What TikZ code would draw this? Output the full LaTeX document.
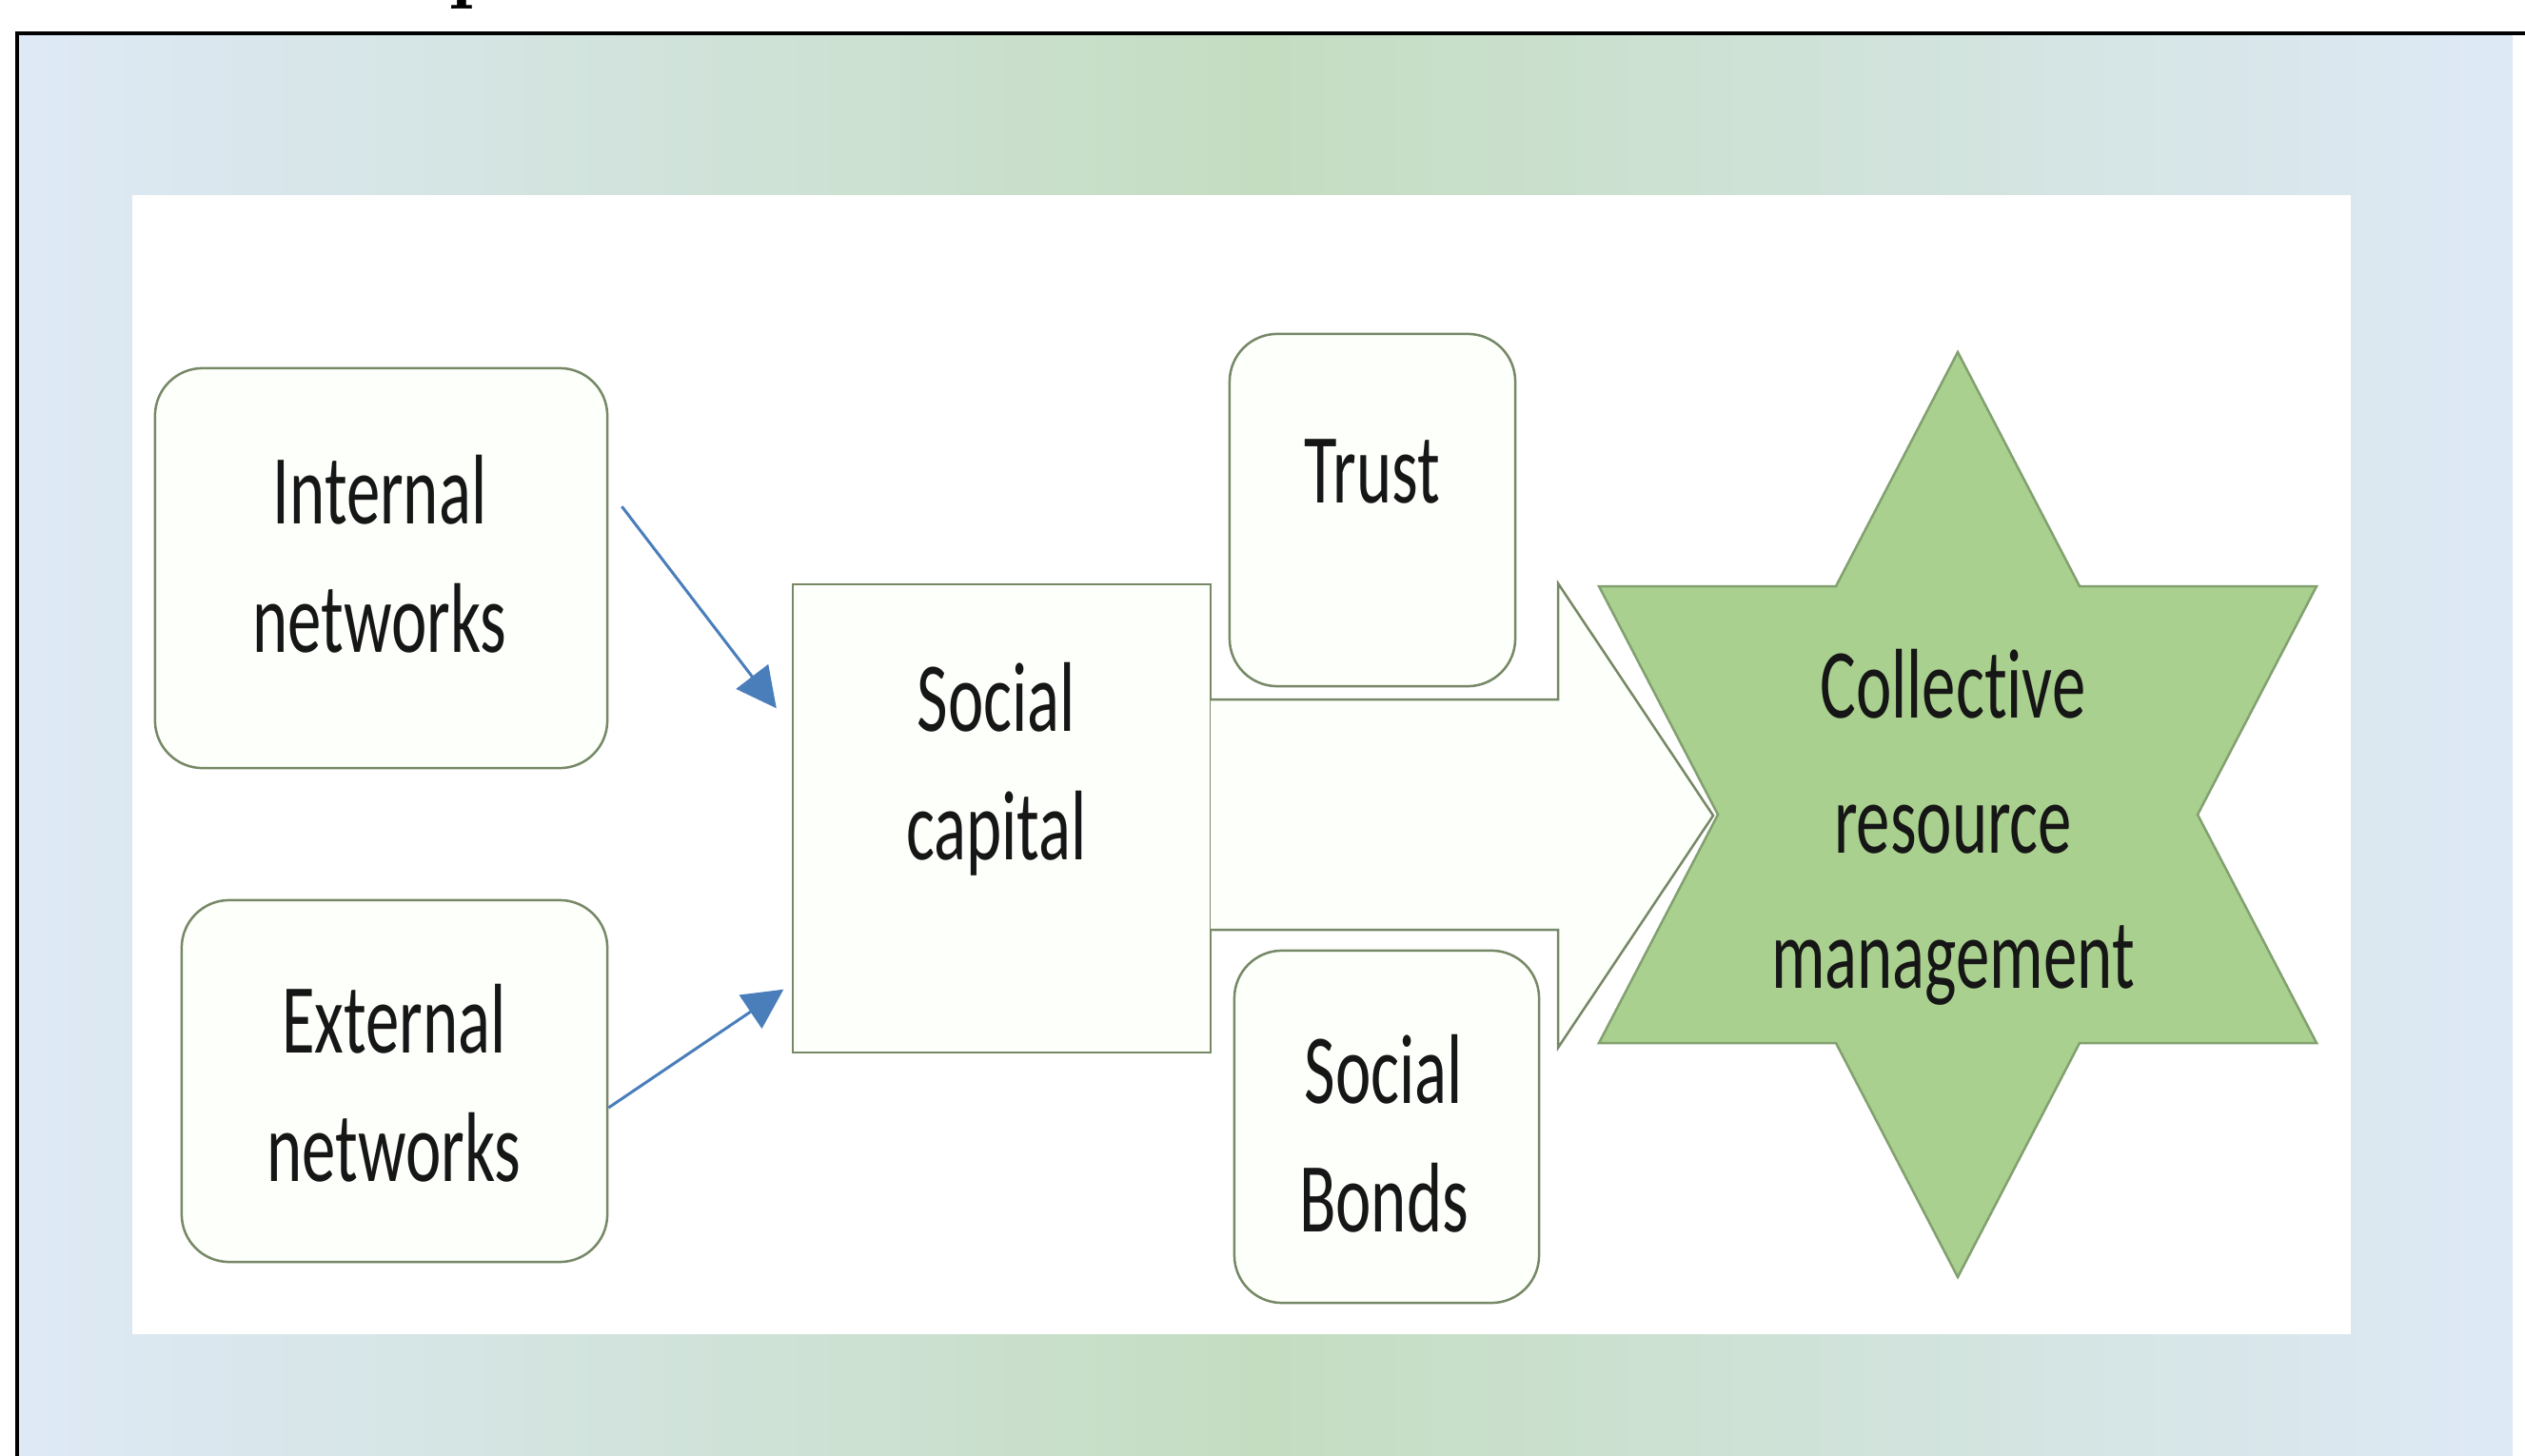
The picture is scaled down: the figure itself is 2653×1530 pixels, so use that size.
\documentclass[tikz,border=0pt]{standalone}
\usepackage{fontspec}
\newfontfamily\cf[FakeStretch=0.68,Ligatures=NoCommon]{Carlito}
\usetikzlibrary{arrows.meta,calc}
\definecolor{bgblue}{RGB}{222,233,246}
\definecolor{bggreen}{RGB}{196,221,193}
\definecolor{boxline}{RGB}{118,136,102}
\definecolor{boxfill}{RGB}{253,255,250}
\definecolor{starfill}{RGB}{169,208,142}
\definecolor{starline}{RGB}{130,160,112}
\definecolor{arrowblue}{RGB}{74,126,187}
\definecolor{txt}{RGB}{22,22,22}
\begin{document}
\begin{tikzpicture}[x=0.01cm,y=-0.01cm,
  rbox/.style={draw=boxline,fill=boxfill,line width=0.025cm,rounded corners=0.5cm,inner sep=0pt},
  sbox/.style={draw=boxline,fill=boxfill,line width=0.025cm,inner sep=0pt},
  lbl/.style={font=\cf\fontsize{29.6pt}{38.4pt}\selectfont,text=txt,align=center,inner sep=0pt},
  biglbl/.style={font=\cf\fontsize{29.6pt}{40.4pt}\selectfont,text=txt,align=center,inner sep=0pt},
  conn/.style={draw=arrowblue,line width=0.03cm,-{Triangle[length=0.42cm,width=0.42cm]}},
  starshape/.style={draw=starline,fill=starfill,line width=0.025cm,line join=miter},
]
\useasboundingbox (0,0) rectangle (2653,1530);
\fill[white] (0,0) rectangle (2653,1530);
% cut-off title fragment
\begin{scope}
\clip (0,0) rectangle (2653,12);
\node[anchor=base west,inner sep=0pt,font=\fontsize{25pt}{30pt}\selectfont\bfseries] (ttl) at (471,-8) {p};
\end{scope}
% slide background and frame
\shade[left color=bgblue,right color=bgblue,middle color=bggreen] (18,35) rectangle (2640,1600);
\draw[black,line width=0.035cm] (18,35) rectangle (2720,1620);
\fill[white] (139,205) rectangle (2470,1402);
% boxes
\node[rbox,minimum width=4.75cm,minimum height=4.2cm] (int) at (400.5,597) {};
\node[rbox,minimum width=4.47cm,minimum height=3.8cm] (ext) at (414.5,1136) {};
\node[rbox,minimum width=3.0cm,minimum height=3.7cm] (trust) at (1442,536) {};
\node[rbox,minimum width=3.2cm,minimum height=3.7cm] (bonds) at (1457,1184) {};
\node[sbox,minimum width=4.39cm,minimum height=4.92cm] (cap) at (1052.5,860) {};
% block arrow
\draw[sbox,line join=miter] (1272,735) -- (1637,735) -- (1637,613) -- (1800,857) -- (1637,1101) -- (1637,977) -- (1272,977);
% star
\draw[starshape] (2057,370) -- (2185,616) -- (2434,616) -- (2309,856) -- (2434,1096) -- (2185,1096) -- (2057,1342) -- (1929,1096) -- (1680,1096) -- (1805,856) -- (1680,616) -- (1929,616) -- cycle;
% labels
\node[lbl] (lint) at (399,582) {Internal\\networks};
\node[lbl] (lext) at (414,1138) {External\\networks};
\node[lbl] (lcap) at (1047,808) {Social\\capital};
\node[lbl] (ltrust) at (1442,495) {Trust};
\node[lbl] (lbonds) at (1454,1191) {Social\\Bonds};
\node[biglbl] (lcrm) at (2052,869) {Collective\\resource\\management};
% connectors
\draw[conn,shorten <=0.23cm,shorten >=0.26cm] ([yshift=0.83cm]int.east) -- ([yshift=0.95cm]cap.west);
\draw[conn,shorten >=0.1cm] ([yshift=-0.28cm]ext.east) -- ([yshift=-1.74cm]cap.west);
\end{tikzpicture}
\end{document}
